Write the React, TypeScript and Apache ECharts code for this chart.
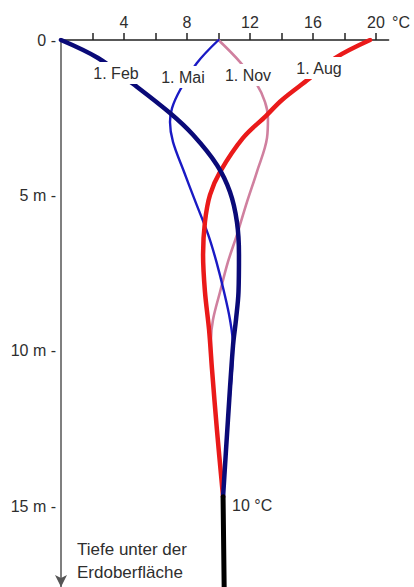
import React, { useEffect, useRef } from "react";
import * as echarts from "echarts";

// Temperature axis (°C) and depth axis (m)
const tempTicks = [2, 4, 6, 8, 10, 12, 14, 16, 18, 20];
const tempLabels = [4, 8, 12, 16, 20];
const depthLabels = [0, 5, 10, 15];

// [temperature °C, depth m]
const febPoints = [
  [0, 0], [2.35, 0.58], [4.57, 1.41], [6.92, 2.35], [8.38, 3.05], [9.9, 4.02],
  [10.73, 4.89], [11.17, 5.85], [11.3, 6.91], [11.27, 8.1], [11.11, 9.0],
  [10.92, 9.84], [10.6, 12.22], [10.29, 14.7],
];
const maiPoints = [
  [10, 0], [8.63, 0.74], [7.56, 1.61], [7.05, 2.19], [6.92, 2.64], [7.11, 3.28],
  [7.81, 4.24], [8.54, 5.21], [9.35, 6.27], [9.87, 7.14], [10.35, 8.1],
  [10.73, 9.0], [10.92, 9.84], [10.6, 12.22], [10.29, 14.7],
];
const novPoints = [
  [10, 0], [11.37, 0.71], [12.38, 1.38], [12.95, 1.99], [13.14, 2.51], [13.08, 3.15],
  [12.44, 4.24], [11.81, 5.21], [11.17, 6.27], [10.6, 7.14], [10.1, 8.1],
  [9.65, 9.0], [9.52, 9.65], [9.9, 12.54], [10.29, 14.7],
];
const augPoints = [
  [19.62, 0], [17.4, 0.58], [15.75, 1.25], [14.03, 1.93], [13.02, 2.44], [11.56, 3.15],
  [10.1, 4.24], [9.46, 4.98], [9.14, 5.85], [9.02, 6.91], [9.14, 8.1],
  [9.4, 9.32], [9.59, 10.61], [9.9, 12.54], [10.29, 14.7],
];
const deepPoints = [[10.29, 14.7], [10.36, 17.6]];

const curveNames = ["1. Feb", "1. Mai", "1. Nov", "1. Aug"];
const constantLabel = "10 °C";
const depthTitle = ["Tiefe unter der", "Erdoberfläche"];

const FONT = '"Liberation Sans", Arial, sans-serif';

export default function App() {
  const ref = useRef<HTMLDivElement>(null);
  useEffect(() => {
    if (!ref.current) return;
    const chart = echarts.init(ref.current, null, { renderer: "svg" });
    const lineSeries = (name: string, data: number[][], color: string, width: number, z: number) => ({
      name,
      type: "line",
      data,
      smooth: 0.35,
      showSymbol: false,
      symbol: "none",
      z,
      lineStyle: { color, width, cap: "round", join: "round" },
      emphasis: { disabled: true },
    });
    const txt = (text: string, x: number, y: number, align: string, size = 16, bg = false) => ({
      type: "text",
      x,
      y,
      z: 100,
      style: {
        text,
        fill: "#2e2e2e",
        font: `${size}px ${FONT}`,
        textAlign: align,
        textVerticalAlign: "middle",
        ...(bg ? { backgroundColor: "#fff", padding: [3, 3] } : {}),
      },
    });
    chart.setOption({
      animation: false,
      backgroundColor: "#fff",
      textStyle: { fontFamily: FONT },
      grid: { left: 61, top: 40, right: 25.4, bottom: 0, containLabel: false },
      xAxis: {
        type: "value",
        position: "top",
        min: 0,
        max: 20.8,
        axisLine: { onZero: false, lineStyle: { color: "#222", width: 1.5 } },
        axisTick: { customValues: tempTicks, length: 7, lineStyle: { color: "#222", width: 1.5 } },
        axisLabel: { customValues: tempLabels, margin: 10, fontSize: 16, color: "#2e2e2e", fontFamily: FONT },
        splitLine: { show: false },
      },
      yAxis: {
        type: "value",
        inverse: true,
        min: 0,
        max: 17.6,
        axisLine: {
          show: true,
          onZero: false,
          symbol: ["arrow", "none"],
          symbolSize: [9, 12],
          lineStyle: { color: "#555", width: 1.5 },
        },
        axisTick: { show: false },
        axisLabel: {
          customValues: depthLabels,
          margin: 5,
          fontSize: 16,
          color: "#2e2e2e",
          fontFamily: FONT,
          formatter: (v: number) => (v === 0 ? "0 -" : `${v} m -`),
        },
        splitLine: { show: false },
      },
      series: [
        lineSeries(curveNames[2], novPoints, "#d0809f", 2.6, 2),
        lineSeries(curveNames[1], maiPoints, "#1a1ac4", 2.4, 3),
        lineSeries(curveNames[3], augPoints, "#ea1a1a", 4.5, 4),
        lineSeries(curveNames[0], febPoints, "#0a0a78", 4.5, 5),
        lineSeries("deep", deepPoints, "#000", 5, 6),
      ],
      graphic: [
        txt(curveNames[0], 116, 73, "center", 16, true),
        txt(curveNames[1], 183, 77, "center", 16, true),
        txt(curveNames[2], 248, 75, "center", 16, true),
        txt(curveNames[3], 319, 68, "center", 16, true),
        txt("°C", 392, 22, "left", 16),
        txt(constantLabel, 232, 505, "left", 16),
        txt(depthTitle[0], 77, 549, "left", 17),
        txt(depthTitle[1], 77, 572, "left", 17),
      ],
    });
    return () => chart.dispose();
  }, []);
  return (
    <div
      ref={ref}
      style={{ position: "fixed", left: 0, top: 0, width: 414, height: 587, background: "#fff" }}
    />
  );
}
